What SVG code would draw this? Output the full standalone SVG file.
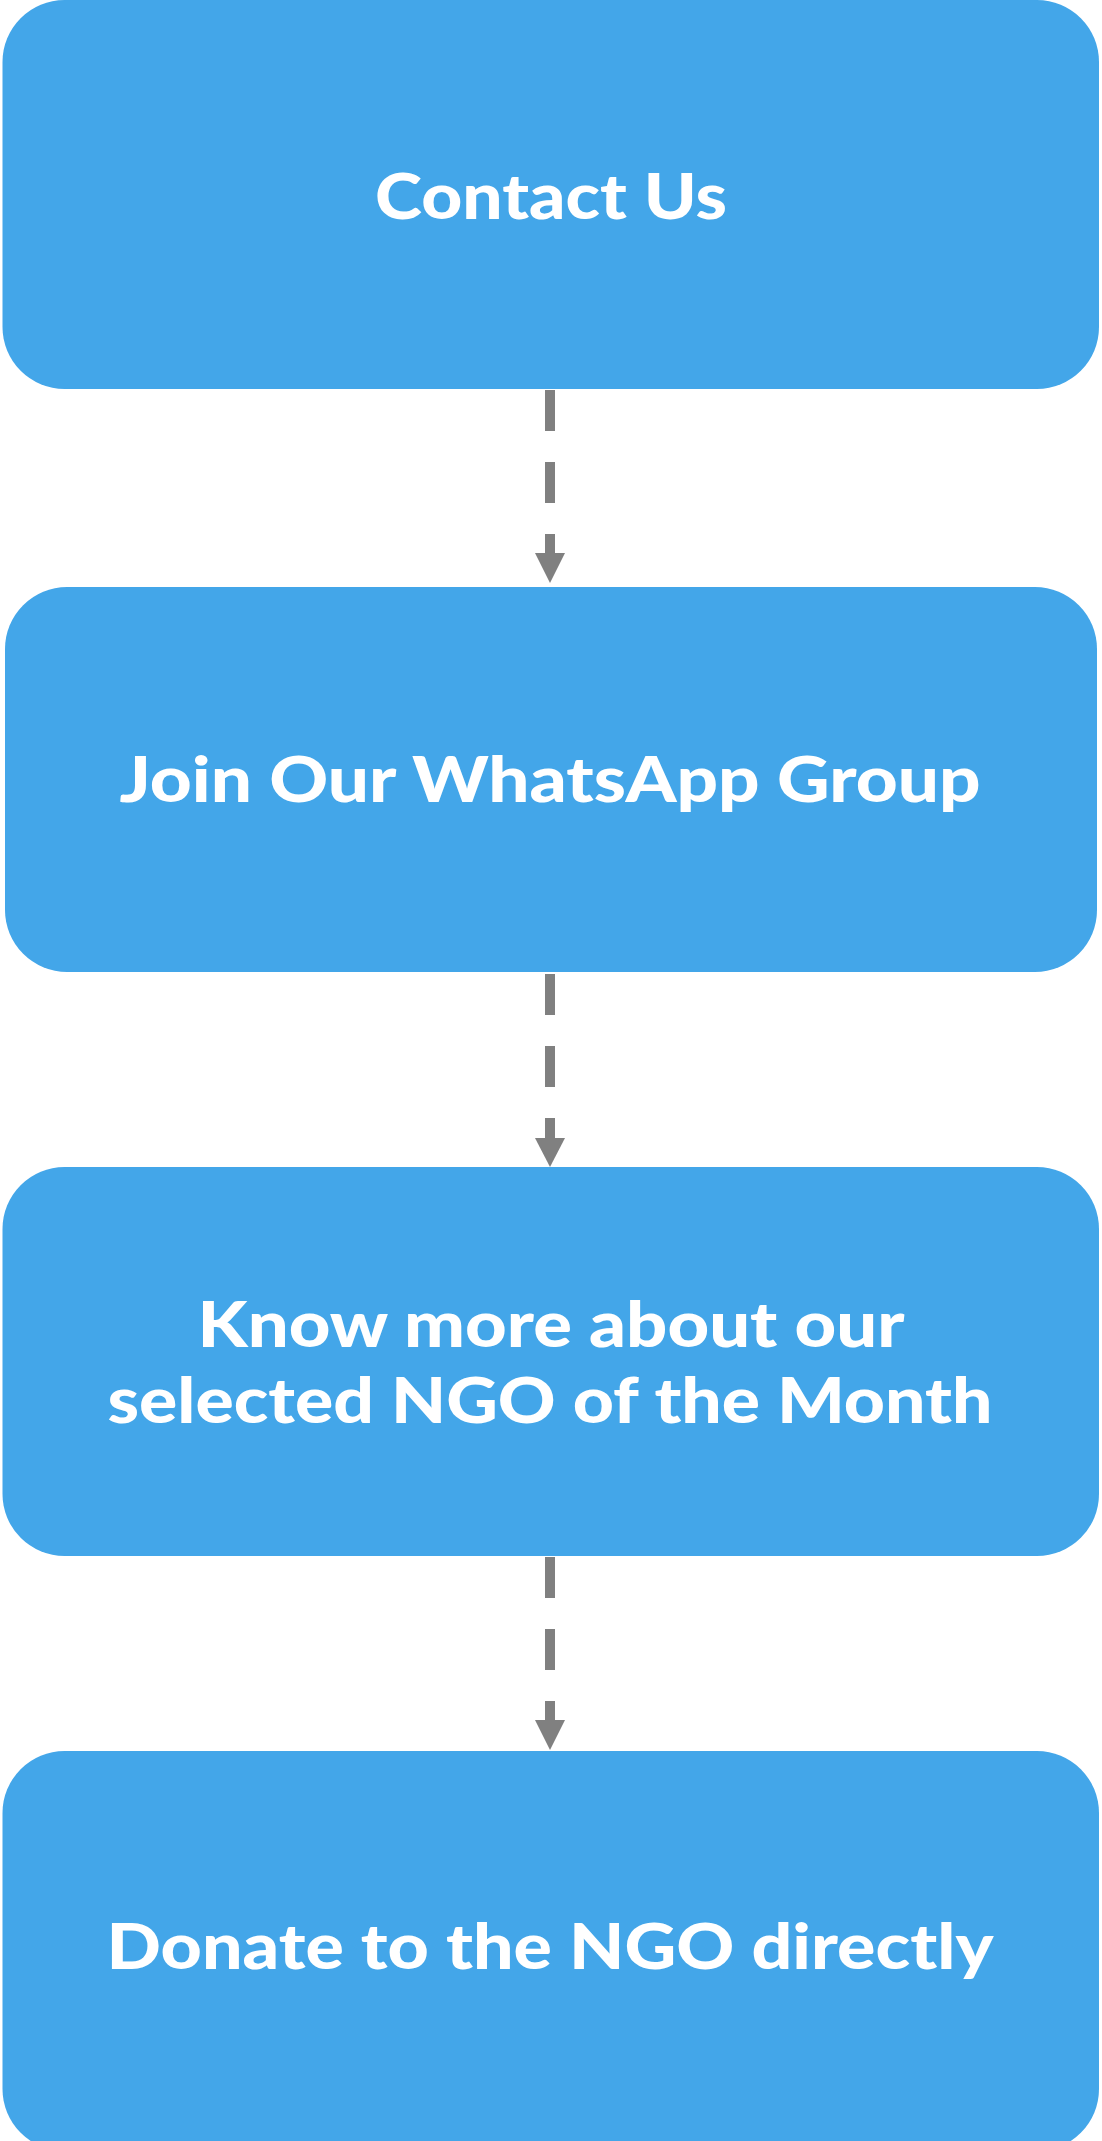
<svg xmlns="http://www.w3.org/2000/svg" width="1102" height="2141" viewBox="0 0 1102 2141">
<style>
.box{fill:#43a6e9;}
.lbl{font-family:"Lato","Open Sans","Liberation Sans",sans-serif;font-weight:900;font-size:62px;fill:#ffffff;text-anchor:middle;}
.conn{stroke:#808080;stroke-width:10;stroke-dasharray:41 31;fill:none;}
.head{fill:#808080;}
</style>
<rect width="1102" height="2141" fill="#ffffff"/>
<g id="connectors">
<path class="conn" d="M550 390V553"/>
<path class="head" d="M535 553H565L550 583Z"/>
<path class="conn" d="M550 974V1138"/>
<path class="head" d="M535 1138H565L550 1167Z"/>
<path class="conn" d="M550 1557V1720"/>
<path class="head" d="M535 1720H565L550 1750Z"/>
</g>
<g id="node-contact">
<rect class="box" x="2.5" y="0" width="1096.5" height="389" rx="62"/>
<text class="lbl" x="551" y="219" textLength="352" lengthAdjust="spacingAndGlyphs">Contact Us</text>
</g>
<g id="node-whatsapp">
<rect class="box" x="5" y="587" width="1092" height="385" rx="62"/>
<text class="lbl" x="550" y="802" textLength="861" lengthAdjust="spacingAndGlyphs">Join Our WhatsApp Group</text>
</g>
<g id="node-ngo">
<rect class="box" x="2.5" y="1167" width="1096.5" height="389" rx="62"/>
<text class="lbl" x="551" y="1347" textLength="707" lengthAdjust="spacingAndGlyphs">Know more about our</text>
<text class="lbl" x="550" y="1423" textLength="885" lengthAdjust="spacingAndGlyphs">selected NGO of the Month</text>
</g>
<g id="node-donate">
<rect class="box" x="2.5" y="1751" width="1096.5" height="400" rx="62"/>
<text class="lbl" x="550" y="1969" textLength="887" lengthAdjust="spacingAndGlyphs">Donate to the NGO directly</text>
</g>
</svg>
